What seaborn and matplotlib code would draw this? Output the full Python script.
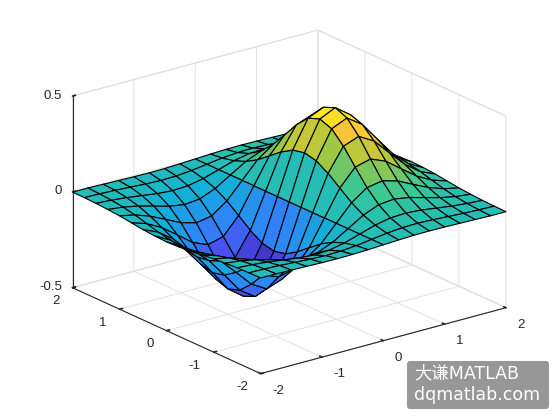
import numpy as np
import matplotlib
matplotlib.use("Agg")
import matplotlib.pyplot as plt
import seaborn as sns
from matplotlib.colors import LinearSegmentedColormap, Normalize
from matplotlib.patches import FancyBboxPatch

# ----------------------------
# Data
# ----------------------------
x_vals = [-2, -1.75, -1.5, -1.25, -1, -0.75, -0.5, -0.25, 0, 0.25, 0.5, 0.75, 1, 1.25, 1.5, 1.75, 2]
y_vals = [-2, -1.75, -1.5, -1.25, -1, -0.75, -0.5, -0.25, 0, 0.25, 0.5, 0.75, 1, 1.25, 1.5, 1.75, 2]

row_200 = [-.001, -.001, -.003, -.005, -.007, -.008, -.007, -.004, 0, .004, .007, .008, .007, .005, .003, .001, .001]
row_175 = [-.002, -.004, -.007, -.012, -.017, -.020, -.018, -.011, 0, .011, .018, .020, .017, .012, .007, .004, .002]
row_150 = [-.004, -.009, -.017, -.028, -.039, -.045, -.041, -.025, 0, .025, .041, .045, .039, .028, .017, .009, .004]
row_125 = [-.008, -.017, -.033, -.055, -.077, -.090, -.082, -.049, 0, .049, .082, .090, .077, .055, .033, .017, .008]
row_100 = [-.013, -.030, -.058, -.096, -.135, -.157, -.143, -.086, 0, .086, .143, .157, .135, .096, .058, .030, .013]
row_075 = [-.021, -.047, -.090, -.149, -.210, -.243, -.222, -.134, 0, .134, .222, .243, .210, .149, .090, .047, .021]
row_050 = [-.029, -.064, -.123, -.204, -.287, -.333, -.303, -.183, 0, .183, .303, .333, .287, .204, .123, .064, .029]
row_025 = [-.034, -.077, -.149, -.246, -.346, -.401, -.366, -.221, 0, .221, .366, .401, .346, .246, .149, .077, .034]
row_000 = [-.037, -.082, -.158, -.262, -.368, -.427, -.389, -.235, 0, .235, .389, .427, .368, .262, .158, .082, .037]

z_rows = [row_200, row_175, row_150, row_125, row_100, row_075, row_050, row_025, row_000,
          row_025, row_050, row_075, row_100, row_125, row_150, row_175, row_200]

xy_ticks = [-2, -1, 0, 1, 2]
z_ticks = [-0.5, 0, 0.5]
z_labels = ["-0.5", "0", "0.5"]

# parula-like colormap
parula_pts = [
    (0.00, (0.2422, 0.1504, 0.6603)),
    (0.11, (0.2810, 0.3228, 0.9579)),
    (0.24, (0.1786, 0.5289, 0.9682)),
    (0.41, (0.0689, 0.6948, 0.8394)),
    (0.59, (0.2161, 0.7843, 0.5923)),
    (0.73, (0.6720, 0.7793, 0.2227)),
    (0.87, (0.9970, 0.7659, 0.2199)),
    (1.00, (0.9769, 0.9839, 0.0805)),
]
parula = LinearSegmentedColormap.from_list("parula", parula_pts)

# ----------------------------
# Plot
# ----------------------------
sns.set_theme(style="white")
plt.rcParams["font.family"] = ["Liberation Sans", "DejaVu Sans"]
plt.rcParams["axes.unicode_minus"] = False

X, Y = np.meshgrid(x_vals, y_vals)
Z = np.array(z_rows)
colors = parula(Normalize(Z.min(), Z.max())(Z))

fig = plt.figure(figsize=(5.6, 4.2), dpi=100)
ax = fig.add_axes([0.003, -0.1652, 1.0, 1.333], projection="3d", computed_zorder=False)
ax.set_proj_type("ortho")
ax.view_init(elev=20.5, azim=-127.5)
ax.set_box_aspect((1, 1, 0.662), zoom=0.837)

ax.plot_surface(X, Y, Z, facecolors=colors, rstride=1, cstride=1, shade=False,
                edgecolor="black", linewidth=0.8, antialiased=True)

ax.set_xlim(-2, 2, view_margin=0)
ax.set_ylim(-2, 2, view_margin=0)
ax.set_zlim(-0.5, 0.5, view_margin=0)
ax.set_xticks(xy_ticks)
ax.set_yticks(xy_ticks)
ax.set_zticks(z_ticks)
ax.set_zticklabels(z_labels)

for axis, pad in ((ax.xaxis, 5), (ax.yaxis, 3), (ax.zaxis, -3)):
    axis.set_pane_color((1, 1, 1, 1))
    axis.pane.set_edgecolor("#d2d2d2")
    axis.pane.set_linewidth(0.7)
    axis.line.set_color("#262626")
    axis.line.set_linewidth(0.8)
    axis._axinfo["grid"].update(color="#e2e2e2", linewidth=0.7)
    axis._axinfo["tick"].update(color="#262626", inward_factor=0.0, outward_factor=0.15)
    axis.set_tick_params(labelsize=9.5, labelcolor="#262626", pad=pad)
ax.grid(True)
ax.zaxis.set_ticks_position("upper")

# nudge tick labels towards where the reference has them
for axis, ha in ((ax.xaxis, "left"), (ax.yaxis, "right"), (ax.zaxis, "right")):
    for tick in axis.get_major_ticks():
        tick.label1.set_ha(ha)
        tick.label1.set_va("center")

# watermark
box = FancyBboxPatch((407, 11), 142, 48, boxstyle="round,pad=0,rounding_size=3",
                     transform=None, facecolor="#979797", edgecolor="none", zorder=5)
fig.add_artist(box)
wm_font = ["DejaVu Sans", "Noto Sans CJK SC"]
fig.text(414 / 560, 1 - 373 / 420, "大谦MATLAB", color="white", fontsize=12.5,
         family=wm_font, va="center", ha="left", zorder=6)
fig.text(414 / 560, 1 - 395 / 420, "dqmatlab.com", color="white", fontsize=12.5,
         family=["DejaVu Sans"], va="center", ha="left", zorder=6)

fig.savefig("out.png", dpi=100)
